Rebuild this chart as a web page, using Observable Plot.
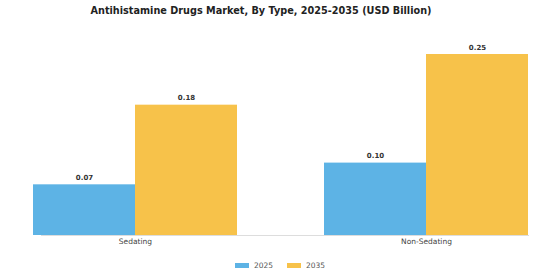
<!DOCTYPE html>
<html><head>
<meta charset="utf-8">
<script src="https://cdn.jsdelivr.net/npm/d3@7"></script>
<script src="https://cdn.jsdelivr.net/npm/@observablehq/plot@0.6"></script>
<style>
body{margin:0;background:#fff;font-family:"DejaVu Sans",sans-serif;width:560px}
#title{text-align:center;font-weight:bold;font-size:9.7px;height:22px;line-height:22px;color:#222;padding-right:38px}
#legend{display:flex;justify-content:center;gap:14px;font-size:7.5px;color:#555;margin-top:9px}
#legend span.sw{display:inline-block;width:14px;height:5px;margin-right:5px;vertical-align:middle}
</style></head>
<body>
<div id="title">Antihistamine Drugs Market, By Type, 2025-2035 (USD Billion)</div>
<div id="chart"></div>
<div id="legend"></div>
<script>
const categories = ["Sedating", "Non-Sedating"];
const years = ["2025", "2035"];
const values2025 = [0.07, 0.10];
const values2035 = [0.18, 0.25];
const colors = ["#5DB3E5", "#F7C24A"];

const data = categories.flatMap((c, i) => [
  {category: c, year: years[0], value: values2025[i]},
  {category: c, year: years[1], value: values2035[i]}
]);

const chart = Plot.plot({
  width: 560,
  height: 230,
  marginTop: 32,
  marginBottom: 17,
  marginLeft: 0,
  marginRight: 0,
  style: {fontFamily: "DejaVu Sans", background: "#fff"},
  fx: {domain: categories, paddingInner: 0.3, paddingOuter: 0.109, label: null, axis: "bottom", tickSize: 0, tickPadding: 3},
  x: {domain: years, padding: 0, axis: null},
  y: {domain: [0, 0.25], axis: null},
  color: {domain: years, range: colors},
  marks: [
    Plot.frame({anchor: "bottom", facet: "super", stroke: "#ddd", strokeWidth: 1, insetLeft: 8}),
    Plot.barY(data, {fx: "category", x: "year", y: "value", fill: "year"}),
    Plot.text(data, {fx: "category", x: "year", y: "value", text: d => d.value.toFixed(2), dy: -7, fontWeight: "bold", fontSize: 7, fill: "#333"})
  ]
});
const fxAxis = chart.querySelector('g[aria-label="fx-axis tick label"]');
if (fxAxis) { fxAxis.setAttribute("font-size", "7.5"); fxAxis.setAttribute("fill", "#444"); }
document.getElementById("chart").appendChild(chart);

const legend = document.getElementById("legend");
years.forEach((y, i) => {
  const item = document.createElement("div");
  item.innerHTML = `<span class="sw" style="background:${colors[i]}"></span>${y}`;
  legend.appendChild(item);
});
</script>
</body></html>
